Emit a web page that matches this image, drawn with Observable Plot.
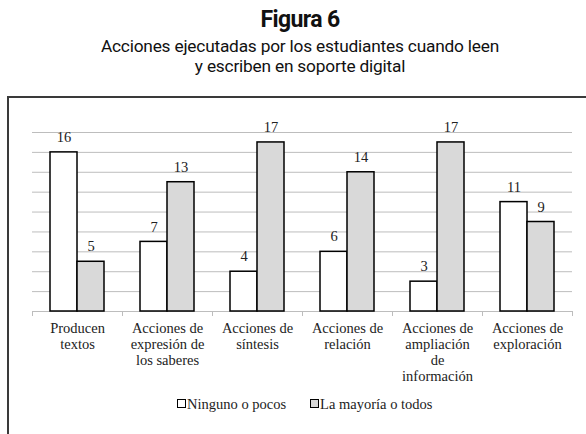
<!DOCTYPE html>
<html>
<head>
<meta charset="utf-8">
<script src="https://cdn.jsdelivr.net/npm/d3@7"></script>
<script src="https://cdn.jsdelivr.net/npm/@observablehq/plot@0.6"></script>
<style>
  html, body { margin: 0; padding: 0; background: #fff; }
  body { width: 586px; height: 434px; overflow: hidden; }
  #header { height: 96px; padding-left: 14px; box-sizing: border-box; text-align: center; color: #111; }
  #title { font-family: Roboto, "Open Sans", sans-serif; font-weight: 700; font-size: 23px; letter-spacing: -0.6px; line-height: 24px; padding-top: 8px; }
  #subtitle { font-family: Roboto, "Open Sans", sans-serif; font-size: 17.3px; line-height: 20px; padding-top: 4px; letter-spacing: -0.2px; }
  #frame { margin-left: 7px; border-top: 2px solid #3a3a3a; border-left: 2px solid #3a3a3a; height: 340px; box-sizing: border-box; position: relative; }
  #chart svg { display: block; }
  #legend { position: absolute; left: 168px; top: 298px; font-family: "Liberation Serif", "Times New Roman", serif; font-size: 14.5px; line-height: 16px; color: #222; white-space: nowrap; }
  .sw { display: inline-block; width: 7px; height: 7px; border: 1.5px solid #000; vertical-align: 1px; margin-right: 1px; }
  .item { display: inline-block; }
</style>
</head>
<body>
<div id="header">
  <div id="title">Figura 6</div>
  <div id="subtitle">Acciones ejecutadas por los estudiantes cuando leen<br>y escriben en soporte digital</div>
</div>
<div id="frame">
  <div id="chart"></div>
  <div id="legend"></div>
</div>
<script>
const categories = [
  "Producen\ntextos",
  "Acciones de\nexpresión de\nlos saberes",
  "Acciones de\nsíntesis",
  "Acciones de\nrelación",
  "Acciones de\nampliación\nde\ninformación",
  "Acciones de\nexploración"
];
const seriesNames = ["Ninguno o pocos", "La mayoría o todos"];
const ningunoValues = [16, 7, 4, 6, 3, 11];
const mayoriaValues = [5, 13, 17, 14, 17, 9];
const yTicks = [0, 2, 4, 6, 8, 10, 12, 14, 16, 18];
const seriesColors = ["#ffffff", "#d9d9d9"];

const ninguno = categories.map((c, i) => ({category: c, value: ningunoValues[i]}));
const mayoria = categories.map((c, i) => ({category: c, value: mayoriaValues[i]}));

const serif = "Liberation Serif, Times New Roman, serif";

const chart = Plot.plot({
  width: 577,
  height: 300,
  marginLeft: 23,
  marginRight: 14,
  marginTop: 34,
  marginBottom: 87,
  style: {fontFamily: serif, fontSize: "14.5px", color: "#222", background: "transparent"},
  x: {domain: categories, padding: 0, label: null},
  y: {domain: [0, 18], axis: null},
  marks: [
    Plot.gridY(yTicks, {stroke: "#bdbdbd", strokeOpacity: 1, strokeWidth: 1}),
    Plot.barY(ninguno, {x: "category", y: "value", fill: seriesColors[0], stroke: "#000", strokeWidth: 1.5, insetLeft: 18, insetRight: 45}),
    Plot.barY(mayoria, {x: "category", y: "value", fill: seriesColors[1], stroke: "#000", strokeWidth: 1.5, insetLeft: 45, insetRight: 18}),
    Plot.ruleX(categories, {x: d => d, dx: -45, y1: () => 0, y2: () => 0, insetBottom: -5, stroke: "#bdbdbd"}),
    Plot.ruleX(categories.slice(-1), {x: d => d, dx: 45, y1: () => 0, y2: () => 0, insetBottom: -5, stroke: "#bdbdbd"}),
    Plot.text(ninguno, {x: "category", y: "value", text: d => String(d.value), dx: -13.5, dy: -15, fill: "#222", fontSize: 14.5}),
    Plot.text(mayoria, {x: "category", y: "value", text: d => String(d.value), dx: 13.5, dy: -15, fill: "#222", fontSize: 14.5}),
    Plot.axisX({tickSize: 0, tickPadding: 10, lineHeight: 1.1, fontSize: 14.5, fill: "#222", label: null})
  ]
});
document.getElementById("chart").appendChild(chart);

const legend = document.getElementById("legend");
seriesNames.forEach((name, i) => {
  const item = document.createElement("span");
  item.className = "item";
  item.style.marginRight = i === 0 ? "24px" : "0";
  const sw = document.createElement("span");
  sw.className = "sw";
  sw.style.background = seriesColors[i];
  item.appendChild(sw);
  item.appendChild(document.createTextNode(name));
  legend.appendChild(item);
});
</script>
</body>
</html>
